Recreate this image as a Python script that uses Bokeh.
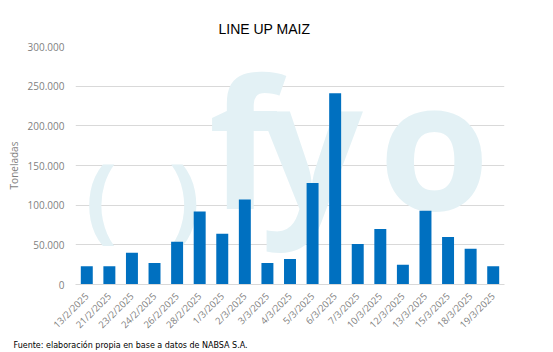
from bokeh.plotting import figure
from bokeh.models import Label, FixedTicker, Title
from bokeh.embed import file_html
from bokeh.resources import INLINE
import math

dates = ["13/2/2025", "21/2/2025", "23/2/2025", "24/2/2025", "26/2/2025", "28/2/2025",
         "1/3/2025", "2/3/2025", "3/3/2025", "4/3/2025", "5/3/2025", "6/3/2025",
         "7/3/2025", "10/3/2025", "12/3/2025", "13/3/2025", "15/3/2025", "18/3/2025",
         "19/3/2025"]
toneladas = [23000, 23000, 40000, 27000, 54000, 92000,
             64000, 107000, 27000, 32000, 128000, 241000,
             51000, 70000, 25000, 93000, 60000, 45000,
             23000]
y_ticks = [0, 50000, 100000, 150000, 200000, 250000, 300000]
y_tick_labels = ["0", "50.000", "100.000", "150.000", "200.000", "250.000", "300.000"]

p = figure(x_range=dates, y_range=(0, 300000),
           frame_width=429, frame_height=238,
           min_border_left=75, min_border_right=49, min_border_top=46, min_border_bottom=68,
           output_backend="svg", toolbar_location=None)
p.outline_line_color = None
p.background_fill_color = "white"
p.border_fill_color = "white"

p.vbar(x=dates, top=toneladas, width=0.53, color="#0070c0", line_color=None)

p.xgrid.grid_line_color = None
p.ygrid.grid_line_color = "#d9d9d9"
p.ygrid.ticker = FixedTicker(ticks=y_ticks)

p.yaxis.ticker = FixedTicker(ticks=y_ticks)
p.yaxis.major_label_overrides = {t: l for t, l in zip(y_ticks, y_tick_labels)}
p.yaxis.axis_line_color = None
p.yaxis.major_tick_line_color = None
p.yaxis.minor_tick_line_color = None
p.yaxis.major_label_text_font = "Open Sans"
p.yaxis.major_label_text_font_size = "10px"
p.yaxis.major_label_text_color = "#7f7f7f"
p.yaxis.major_label_standoff = 5
p.yaxis.axis_label = "Toneladas"
p.yaxis.axis_label_text_font = "Open Sans"
p.yaxis.axis_label_text_font_style = "normal"
p.yaxis.axis_label_text_font_size = "10px"
p.yaxis.axis_label_text_color = "#7f7f7f"
p.yaxis.axis_label_standoff = 4

p.xaxis.axis_line_color = "#d9d9d9"
p.xaxis.major_tick_line_color = None
p.xaxis.minor_tick_line_color = None
p.xaxis.major_label_orientation = math.pi / 4
p.xaxis.major_label_text_font = "Open Sans"
p.xaxis.major_label_text_font_size = "9.5px"
p.xaxis.major_label_text_color = "#7f7f7f"
p.xaxis.major_label_standoff = 4

# watermark (logo)
wm = "#e3f1f5"
for txt, x, y, size in [("(", 10, 90, "93px"), (")", 93, 90, "93px"),
                        ("f", 133, 145, "180px"), ("y", 185, 144, "180px"), ("o", 303, 144, "180px")]:
    p.add_layout(Label(x=x, y=y, x_units="screen", y_units="screen", text=txt,
                       text_font="Open Sans", text_font_style="bold", text_font_size=size,
                       text_baseline="alphabetic",
                       text_color=wm, level="underlay"))

p.title.text = "LINE UP MAIZ"
p.title.align = "left"
p.title.offset = 143
p.title.standoff = 19
p.title.text_font = "Liberation Sans"
p.title.text_font_size = "14px"
p.title.text_font_style = "normal"
p.title.text_color = "#000000"

p.add_layout(Title(text="Fuente: elaboración propia en base a datos de NABSA S.A.",
                   align="left", offset=-62, standoff=0,
                   text_font="DejaVu Sans", text_font_size="8px",
                   text_font_style="normal", text_color="#000000"), "below")

open("out.html", "w").write(file_html(p, INLINE))
